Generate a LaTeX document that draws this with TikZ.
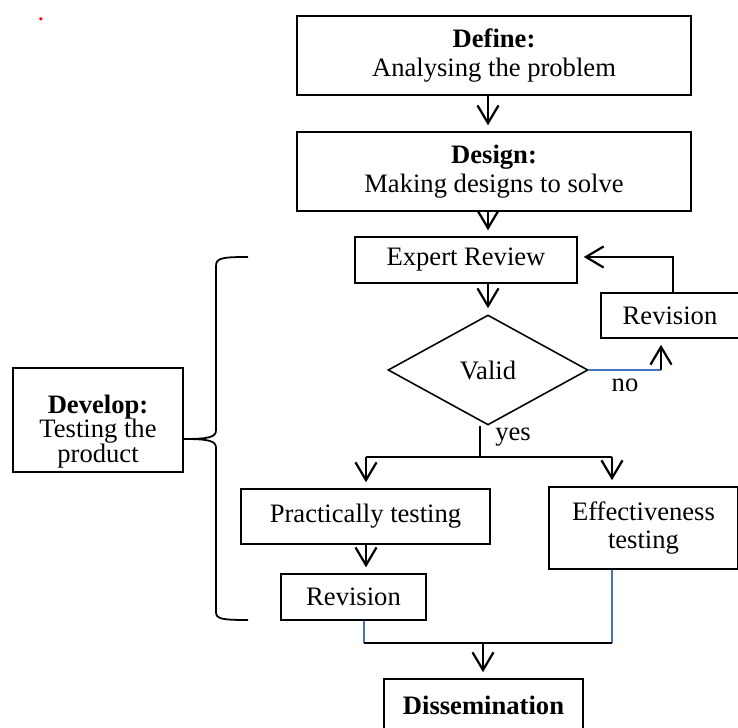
\documentclass[tikz,border=0pt]{standalone}
\usepackage{fontspec}
\setmainfont{Liberation Serif}
\usetikzlibrary{arrows.meta,shapes.geometric}

\definecolor{linkblue}{RGB}{68,114,196}

\tikzset{
  box/.style={draw, line width=0.7pt, align=center, inner sep=2pt, font=\fontsize{12}{13}\selectfont},
  lbl/.style={inner sep=1pt, font=\fontsize{12}{13}\selectfont},
  arr/.style={line width=1pt, -{Straight Barb[length=8pt,width=9.5pt,line width=1pt]}, shorten >=2.7pt},
  link/.style={line width=1pt},
}

\begin{document}
\begin{tikzpicture}[x=0.451pt, y=-0.451pt]
\useasboundingbox (0,0) rectangle (738,728);

% 1. Main stages
\node[box, minimum width=177.7pt, minimum height=35.6pt] (define) at (494,55.5) {\textbf{Define:}\\Analysing the problem};
\node[box, minimum width=177.7pt, minimum height=35.6pt] (design) at (494,171.5) {\textbf{Design:}\\Making designs to solve};
\node[box, minimum width=100.1pt, minimum height=20.7pt] (expert) at (466,260) {Expert Review};
\node[box, diamond, minimum width=90.2pt, minimum height=49.6pt, inner sep=0pt] (valid) at (488,370) {Valid};
\node[box, minimum width=62.2pt, minimum height=20.3pt] (revR) at (670,315.5) {Revision};
\node[box, minimum width=112.3pt, minimum height=24.8pt] (practical) at (365.5,516.5) {Practically testing};
\node[box, minimum width=85.2pt, minimum height=37pt] (effect) at (643.5,528) {Effectiveness\\testing};
\node[box, minimum width=65.4pt, minimum height=20.7pt] (revL) at (353.5,597) {Revision};
\node[box, minimum width=89.7pt, minimum height=23.5pt] (dissem) at (483.5,705) {\textbf{Dissemination}};

% 2. Develop box and brace
\node[box, minimum width=76.7pt, minimum height=46.9pt, text height=40pt, text depth=2pt,
      font=\fontsize{12}{11}\selectfont] (develop) at (98,420) {\textbf{Develop:}\\Testing the\\product};
\coordinate (braceT) at (248,257);
\coordinate (braceM) at (183,439);
\coordinate (braceB) at (248,620);
\draw[line width=0.8pt] (braceT) .. controls (222,257) and (216,258) .. (216,266) -- (216,430)
  .. controls (216,437) and (210,439) .. (braceM)
  .. controls (210,439) and (216,441) .. (216,448) -- (216,612)
  .. controls (216,619) and (222,620) .. (braceB);

% 3. Red mark
\node[lbl, text=red, inner sep=0pt] (mark) at (41,19) {.};

% 4. Coordinates for the branches
\coordinate (fb) at (673,257);
\coordinate (nocorner) at (661,370);
\coordinate (yes) at (480,457);
\coordinate (yesL) at (366,457);
\coordinate (yesR) at (612,457);
\coordinate (joinL) at (364,643);
\coordinate (joinR) at (612,643);
\coordinate (joinM) at (483,643);

% 5. Arrows down the main line
\draw[arr] (define.south -| valid) -- (design.north -| valid);
\draw[arr] (design.south -| valid) -- (expert.north -| valid);
\draw[arr] (expert.south -| valid) -- (valid.north);

% 6. "no" branch and feedback
\draw[link, linkblue] (valid.east) -- (nocorner);
\draw[arr] (nocorner) -- (revR.south -| nocorner);
\draw[arr] (revR.north -| fb) -- (fb) -- (fb -| expert.east);
\node[lbl] (nolbl) at (625,385) {no};

% 7. "yes" branch
\draw[link] (valid.south -| yes) -- (yes);
\draw[link] (yesL) -- (yesR);
\draw[arr] (yesL) -- (yesL |- practical.north);
\draw[arr] (yesR) -- (yesR |- effect.north);
\node[lbl] (yeslbl) at (513,437) {yes};
\draw[arr] (practical.south -| yesL) -- (revL.north -| yesL);

% 8. Join to dissemination
\draw[link, linkblue] (revL.south -| joinL) -- (joinL);
\draw[link, linkblue] (effect.south -| joinR) -- (joinR);
\draw[link] (joinL) -- (joinR);
\draw[arr] (joinM) -- (dissem.north -| joinM);

\end{tikzpicture}
\end{document}
